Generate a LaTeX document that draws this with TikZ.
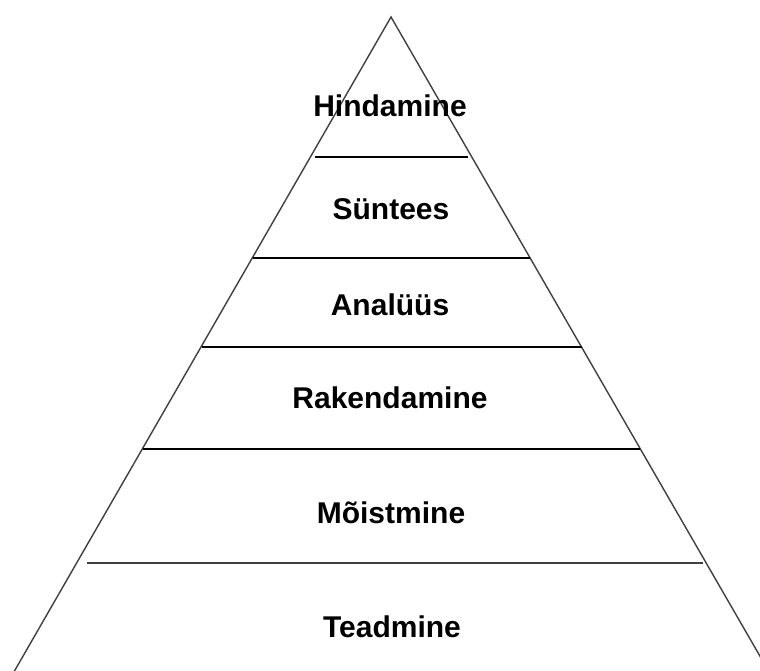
\documentclass[tikz,border=0pt]{standalone}
\usepackage{fontspec}
\setmainfont{Liberation Sans}
\usepackage{tikz}

\tikzset{tase/.style={font=\bfseries\fontsize{30}{34}\selectfont, inner sep=0pt}}

\begin{document}
\begin{tikzpicture}[x=1pt,y=-1pt]
\useasboundingbox (0,0) rectangle (760,671);
\clip (0,0) rectangle (760,671);
\coordinate (tipp) at (391,17);
\coordinate (vasak) at (11,677);
\coordinate (parem) at (772,677);
\draw[line width=1.4pt, color=black!75] (vasak) -- (tipp) -- (parem);
\draw[line width=1.4pt] (315,157) -- (468,157);
\draw[line width=1.4pt] (253,258) -- (530,258);
\draw[line width=1.4pt] (202,347) -- (582,347);
\draw[line width=1.4pt] (143,449) -- (640,449);
\draw[line width=1.4pt, color=black!75] (87,563) -- (703,563);
\node[tase] (hindamine) at (390,106) {Hindamine};
\node[tase] (syntees) at (391,209) {Süntees};
\node[tase] (analyys) at (390,305) {Analüüs};
\node[tase] (rakendamine) at (390,398) {Rakendamine};
\node[tase] (moistmine) at (391,513) {Mõistmine};
\node[tase] (teadmine) at (392,627) {Teadmine};
\end{tikzpicture}
\end{document}
